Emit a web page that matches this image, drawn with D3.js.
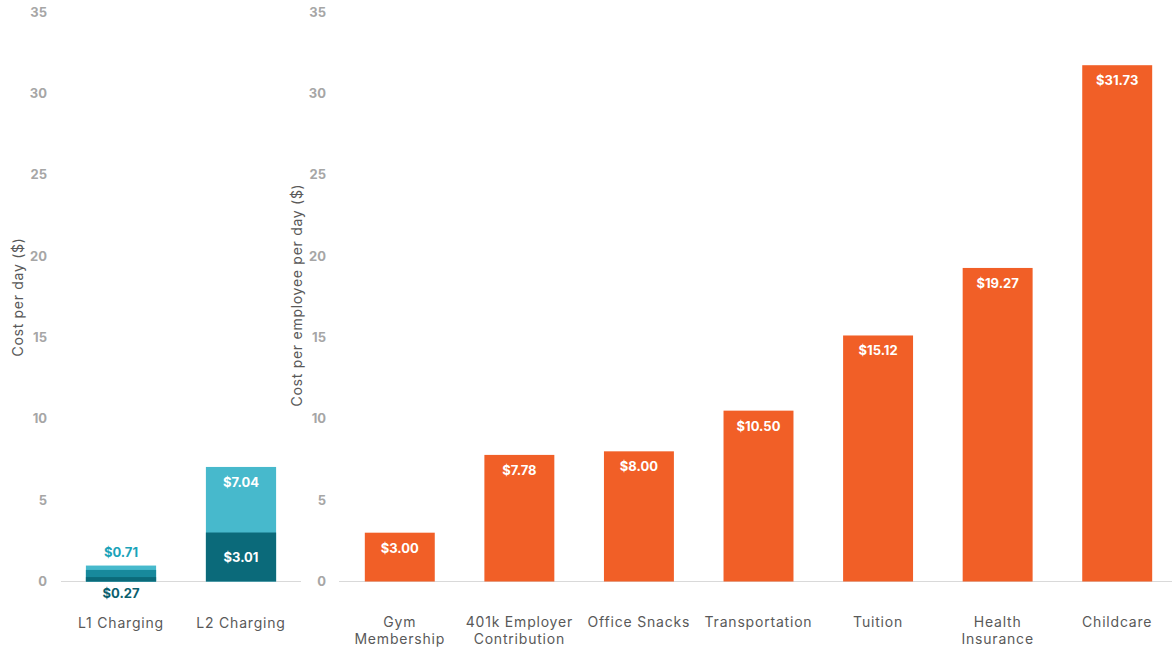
<!DOCTYPE html>
<html>
<head>
<meta charset="utf-8">
<script src="https://cdn.jsdelivr.net/npm/d3@7"></script>
<style>
  html, body { margin: 0; padding: 0; background: #ffffff; }
  svg { display: block; font-family: Inter, "Open Sans", sans-serif; }
</style>
</head>
<body>
<svg id="chart" width="1172" height="652"></svg>
<script>
// Charging cost per day
const chargingCategories = ["L1 Charging", "L2 Charging"];
const chargingBase = [0.27, 3.01];   // dark segment
const chargingFull = [0.71, 7.04];   // light segment top
const l1CapTop = 0.98;               // light cap above L1's labelled value

// Benefit cost per employee per day
const benefitCategories = [
  ["Gym", "Membership"],
  ["401k Employer", "Contribution"],
  ["Office Snacks"],
  ["Transportation"],
  ["Tuition"],
  ["Health", "Insurance"],
  ["Childcare"]
];
const benefitValues = [3.00, 7.78, 8.00, 10.50, 15.12, 19.27, 31.73];

const yTicks = [0, 5, 10, 15, 20, 25, 30, 35];

const DARK = "#0b6a7a", MID = "#17899c", LIGHT = "#47b9cc", ORANGE = "#f15f27";
const TICK = "#a6a6a6", TEXT = "#595959", AXIS = "#d9d9d9";

const svg = d3.select("#chart");
const fmt = v => "$" + v.toFixed(2);

const y = d3.scaleLinear().domain([0, 35]).range([581.5, 12]);

// ---------- left panel ----------
const xL = d3.scaleBand().domain(chargingCategories).range([61, 301])
  .paddingInner(0.415).paddingOuter(0.2075);

const left = svg.append("g");
left.append("line").attr("x1", 61).attr("x2", 301)
  .attr("y1", y(0)).attr("y2", y(0)).attr("stroke", AXIS).attr("stroke-width", 1);

const yAxisL = left.append("g").attr("transform", "translate(47,0)")
  .call(d3.axisLeft(y).tickValues(yTicks).tickSize(0).tickPadding(0));
yAxisL.select(".domain").remove();
yAxisL.selectAll("text").attr("fill", TICK).style("font-size", "13px").style("font-weight", 700)
  .style("font-family", "Inter, sans-serif");

left.append("text").attr("transform", `translate(23,297) rotate(-90)`)
  .attr("text-anchor", "middle").attr("fill", TEXT).style("font-size", "14px")
  .style("letter-spacing", "0.7px")
  .text("Cost per day ($)");

chargingCategories.forEach((c, i) => {
  const x0 = xL(c), w = xL.bandwidth();
  const top = i === 0 ? l1CapTop : chargingFull[i];
  left.append("rect").attr("x", x0).attr("width", w)
    .attr("y", y(top)).attr("height", y(0) - y(top)).attr("fill", LIGHT);
  if (i === 0) {
    left.append("rect").attr("x", x0).attr("width", w)
      .attr("y", y(chargingFull[i])).attr("height", y(0) - y(chargingFull[i])).attr("fill", MID);
  }
  left.append("rect").attr("x", x0).attr("width", w)
    .attr("y", y(chargingBase[i])).attr("height", y(0) - y(chargingBase[i])).attr("fill", DARK);
});

// value labels for charging
const cx0 = xL("L1 Charging") + xL.bandwidth() / 2;
const cx1 = xL("L2 Charging") + xL.bandwidth() / 2;
const lbl = (g, x, yy, t, col) => g.append("text").attr("x", x).attr("y", yy)
  .attr("text-anchor", "middle").attr("fill", col).style("font-size", "13px")
  .style("font-weight", 700).text(t);
lbl(left, cx0, y(l1CapTop) - 9, fmt(chargingFull[0]), "#1ba3b9");
lbl(left, cx0, y(0) + 16, fmt(chargingBase[0]), "#0b5f6e");
lbl(left, cx1, y(chargingFull[1]) + 20, fmt(chargingFull[1]), "#ffffff");
lbl(left, cx1, (y(chargingBase[1]) + y(0)) / 2 + 5, fmt(chargingBase[1]), "#ffffff");

left.selectAll(".cat").data(chargingCategories).join("text")
  .attr("x", d => xL(d) + xL.bandwidth() / 2).attr("y", 628)
  .attr("text-anchor", "middle").attr("fill", TEXT).style("font-size", "14px")
  .style("letter-spacing", "0.8px")
  .text(d => d);

// ---------- right panel ----------
const names = benefitCategories.map(d => d.join(" "));
const xR = d3.scaleBand().domain(names).range([340, 1177])
  .paddingInner(0.415).paddingOuter(0.2075);

const right = svg.append("g");
right.append("line").attr("x1", 339).attr("x2", 1172)
  .attr("y1", y(0)).attr("y2", y(0)).attr("stroke", AXIS).attr("stroke-width", 1);

const yAxisR = right.append("g").attr("transform", "translate(326,0)")
  .call(d3.axisLeft(y).tickValues(yTicks).tickSize(0).tickPadding(0));
yAxisR.select(".domain").remove();
yAxisR.selectAll("text").attr("fill", TICK).style("font-size", "13px").style("font-weight", 700)
  .style("font-family", "Inter, sans-serif");

right.append("text").attr("transform", `translate(302,295) rotate(-90)`)
  .attr("text-anchor", "middle").attr("fill", TEXT).style("font-size", "14px")
  .style("letter-spacing", "0.72px")
  .text("Cost per employee per day ($)");

right.selectAll(".bar").data(benefitValues).join("rect")
  .attr("x", (d, i) => xR(names[i])).attr("width", xR.bandwidth())
  .attr("y", d => y(d)).attr("height", d => y(0) - y(d)).attr("fill", ORANGE);

right.selectAll(".val").data(benefitValues).join("text")
  .attr("x", (d, i) => xR(names[i]) + xR.bandwidth() / 2).attr("y", d => y(d) + 20)
  .attr("text-anchor", "middle").attr("fill", "#ffffff").style("font-size", "13px")
  .style("font-weight", 700).text(d => fmt(d));

benefitCategories.forEach((lines, i) => {
  const t = right.append("text").attr("x", xR(names[i]) + xR.bandwidth() / 2)
    .attr("y", 627).attr("text-anchor", "middle").attr("fill", TEXT).style("font-size", "14px")
    .style("letter-spacing", "0.8px");
  lines.forEach((s, j) => t.append("tspan").attr("x", xR(names[i]) + xR.bandwidth() / 2)
    .attr("dy", j === 0 ? 0 : 17).text(s));
});
</script>
</body>
</html>
